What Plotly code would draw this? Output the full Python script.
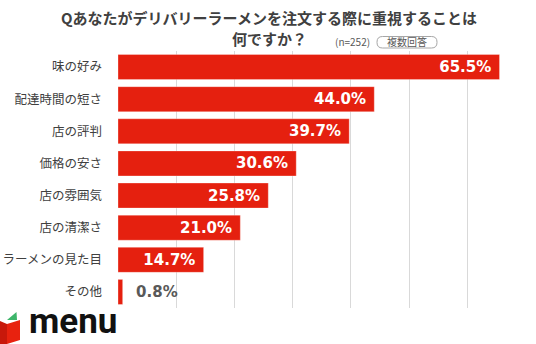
import plotly.graph_objects as go

# Survey answers (multiple choice, n=252), share of respondents in %
categories = ["味の好み", "配達時間の短さ", "店の評判", "価格の安さ",
              "店の雰囲気", "店の清潔さ", "ラーメンの見た目", "その他"]
values = [65.5, 44.0, 39.7, 30.6, 25.8, 21.0, 14.7, 0.8]
x_ticks = [0, 10, 20, 30, 40, 50, 60, 70]

title_line1 = "Qあなたがデリバリーラーメンを注文する際に重視することは"
title_line2 = "何ですか？"
sample_note = "(n=252)"
badge_text = "複数回答"
brand = "menu"

W, H = 536, 344
L, R, T, B = 118, 10, 51, 36
PW, PH = W - L - R, H - T - B

RED = "#E5200F"
DARK = "#404040"
NB = "\u00a0"


def px(x):
    return (x - L) / PW


def py(y):
    return (H - B - y) / PH


# labels sit inside the bar end, except for bars too short to hold them
positions = ["inside" if v >= 5 else "outside" for v in values]
labels = [f"{v:.1f}%{NB}" if p == "inside" else f"{NB}{NB}{v:.1f}%"
          for v, p in zip(values, positions)]
label_colors = ["white" if p == "inside" else "#595959" for p in positions]

fig = go.Figure(go.Bar(
    x=values,
    y=categories,
    orientation="h",
    marker=dict(color=RED, line=dict(color="rgba(255,255,255,0.5)", width=0.6)),
    text=labels,
    textposition=positions,
    insidetextanchor="end",
    textfont=dict(family="DejaVu Sans", size=15, weight="bold", color=label_colors),
    cliponaxis=False,
    hoverinfo="skip",
))

fig.update_layout(
    width=W, height=H,
    margin=dict(l=L, r=R, t=T, b=B),
    paper_bgcolor="white", plot_bgcolor="white",
    bargap=0.22,
    showlegend=False,
    xaxis=dict(range=[0, 70.05], tickvals=x_ticks, showticklabels=False,
               showgrid=True, gridcolor="#d9d9d9", gridwidth=1,
               zeroline=False, showline=False, fixedrange=True,
               automargin=False),
    yaxis=dict(categoryorder="array", categoryarray=categories,
               autorange="reversed", showgrid=False, showline=False,
               ticks="", ticklabelstandoff=15, automargin=False,
               tickfont=dict(family="Noto Sans CJK JP", size=12.5, color=DARK)),
)

title_font = dict(family="Noto Sans CJK JP", size=15, color=DARK, weight="bold")
annotations = [
    dict(text=title_line1, x=px(269), y=py(17), font=title_font),
    dict(text=title_line2, x=px(269), y=py(39), font=title_font),
    dict(text=sample_note, x=px(333), y=py(42), xanchor="left",
         font=dict(family="Noto Sans CJK JP", size=10, color="#595959")),
    dict(text=badge_text, x=px(407), y=py(42),
         font=dict(family="Noto Sans CJK JP", size=10, color="#595959")),
    dict(text=brand, x=px(27), y=py(344), xanchor="left", yanchor="bottom",
         font=dict(family="Roboto", size=35, color="#111111", weight="bold")),
]
for a in annotations:
    a.setdefault("xanchor", "center")
    a.setdefault("yanchor", "middle")
    a.update(xref="paper", yref="paper", showarrow=False)
fig.update_layout(annotations=annotations)


def rounded_rect(x0, y0, x1, y1, r):
    pts = [
        f"M {px(x0 + r)},{py(y0)}",
        f"L {px(x1 - r)},{py(y0)}",
        f"Q {px(x1)},{py(y0)} {px(x1)},{py(y0 + r)}",
        f"L {px(x1)},{py(y1 - r)}",
        f"Q {px(x1)},{py(y1)} {px(x1 - r)},{py(y1)}",
        f"L {px(x0 + r)},{py(y1)}",
        f"Q {px(x0)},{py(y1)} {px(x0)},{py(y1 - r)}",
        f"L {px(x0)},{py(y0 + r)}",
        f"Q {px(x0)},{py(y0)} {px(x0 + r)},{py(y0)} Z",
    ]
    return " ".join(pts)


def polygon(points):
    d = " ".join(("M" if i == 0 else "L") + f" {px(x)},{py(y)}"
                 for i, (x, y) in enumerate(points))
    return d + " Z"


shapes = [
    # badge outline next to the sample size
    dict(type="path", path=rounded_rect(377, 36.5, 437, 48, 5.5),
         line=dict(color="#a6a6a6", width=1), fillcolor="rgba(0,0,0,0)"),
    # brand mark: red box with a green flap
    dict(type="path", path=polygon([(0, 321), (7, 324), (7, 344), (0, 344)]),
         line=dict(width=0), fillcolor="#C8180B"),
    dict(type="path", path=polygon([(7, 324), (20, 320), (20, 340), (7, 344)]),
         line=dict(width=0), fillcolor="#E8220F"),
    dict(type="path", path=polygon([(7, 320), (16.5, 312), (17, 320)]),
         line=dict(width=0), fillcolor="#3DB56A"),
]
for s in shapes:
    s.update(xref="paper", yref="paper", layer="above")
fig.update_layout(shapes=shapes)

fig.write_html("out.html")
